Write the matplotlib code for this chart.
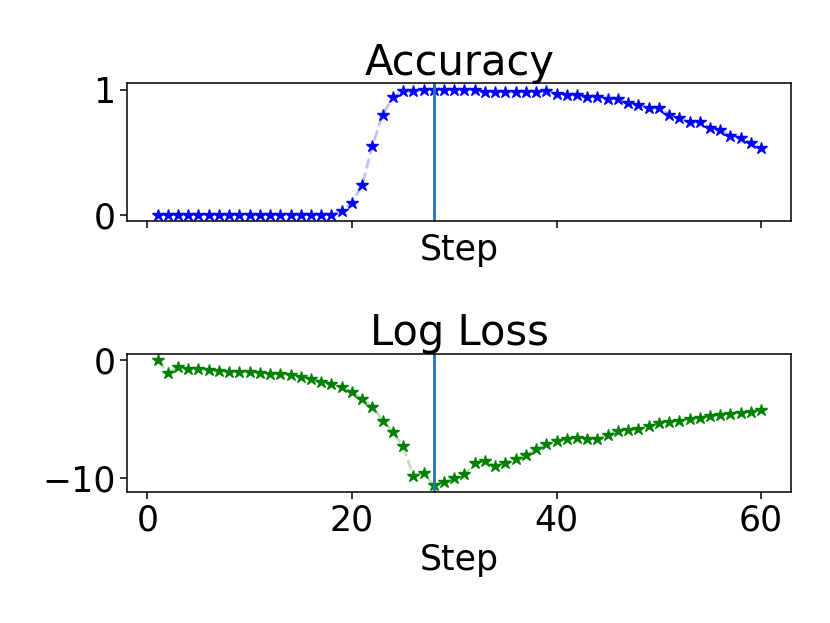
import matplotlib
matplotlib.use("Agg")
import matplotlib.pyplot as plt
import numpy as np

steps = np.arange(1, 61)

accuracy = [
    0, 0, 0, 0, 0, 0, 0, 0, 0, 0,
    0, 0, 0, 0, 0, 0, 0, 0, 0.027, 0.094,
    0.234, 0.548, 0.798, 0.938, 0.985, 0.985, 1.0, 1.0, 1.0, 1.0,
    1.0, 1.0, 0.98, 0.98, 0.98, 0.98, 0.98, 0.98, 0.985, 0.965,
    0.954, 0.954, 0.938, 0.944, 0.927, 0.927, 0.892, 0.873, 0.852, 0.852,
    0.798, 0.771, 0.737, 0.737, 0.696, 0.677, 0.632, 0.616, 0.570, 0.535,
]

log_loss = [
    0.0, -1.05, -0.57, -0.71, -0.76, -0.85, -0.9, -0.96, -1.0, -1.02,
    -1.07, -1.12, -1.18, -1.27, -1.41, -1.6, -1.8, -1.98, -2.31, -2.68,
    -3.30, -3.94, -5.13, -6.11, -7.32, -9.86, -9.63, -10.67, -10.36, -10.05,
    -9.71, -8.73, -8.59, -9.01, -8.73, -8.39, -8.08, -7.60, -7.15, -6.87,
    -6.68, -6.59, -6.68, -6.73, -6.34, -6.03, -5.97, -5.89, -5.63, -5.35,
    -5.27, -5.13, -5.04, -4.90, -4.76, -4.65, -4.56, -4.48, -4.37, -4.20,
]

best_step = 28

fs = 25

fig, (ax1, ax2) = plt.subplots(2, 1, sharex=True, figsize=(8.3, 6.23), dpi=100)
fig.subplots_adjust(left=0.1534, right=0.9534, top=0.8663, bottom=0.2108, hspace=0.97)

ax1.plot(steps, accuracy, "b--", alpha=0.25, lw=2)
ax1.plot(steps, accuracy, "b*", ms=9)
ax1.axvline(best_step, color="C0", lw=2)
ax1.set_title("Accuracy", fontsize=30)
ax1.set_xlabel("Step", fontsize=fs)
ax1.set_yticks([0, 1])

ax2.plot(steps, log_loss, "g--", alpha=0.25, lw=2)
ax2.plot(steps, log_loss, "g*", ms=9)
ax2.axvline(best_step, color="C0", lw=2)
ax2.set_title("Log Loss", fontsize=30)
ax2.set_xlabel("Step", fontsize=fs)
ax2.set_yticks([0, -10])
ax2.set_xticks([0, 20, 40, 60])

for ax in (ax1, ax2):
    ax.tick_params(labelsize=fs, width=1.1, length=5)
    for s in ax.spines.values():
        s.set_linewidth(1.1)

plt.savefig("out.png", dpi=100)
